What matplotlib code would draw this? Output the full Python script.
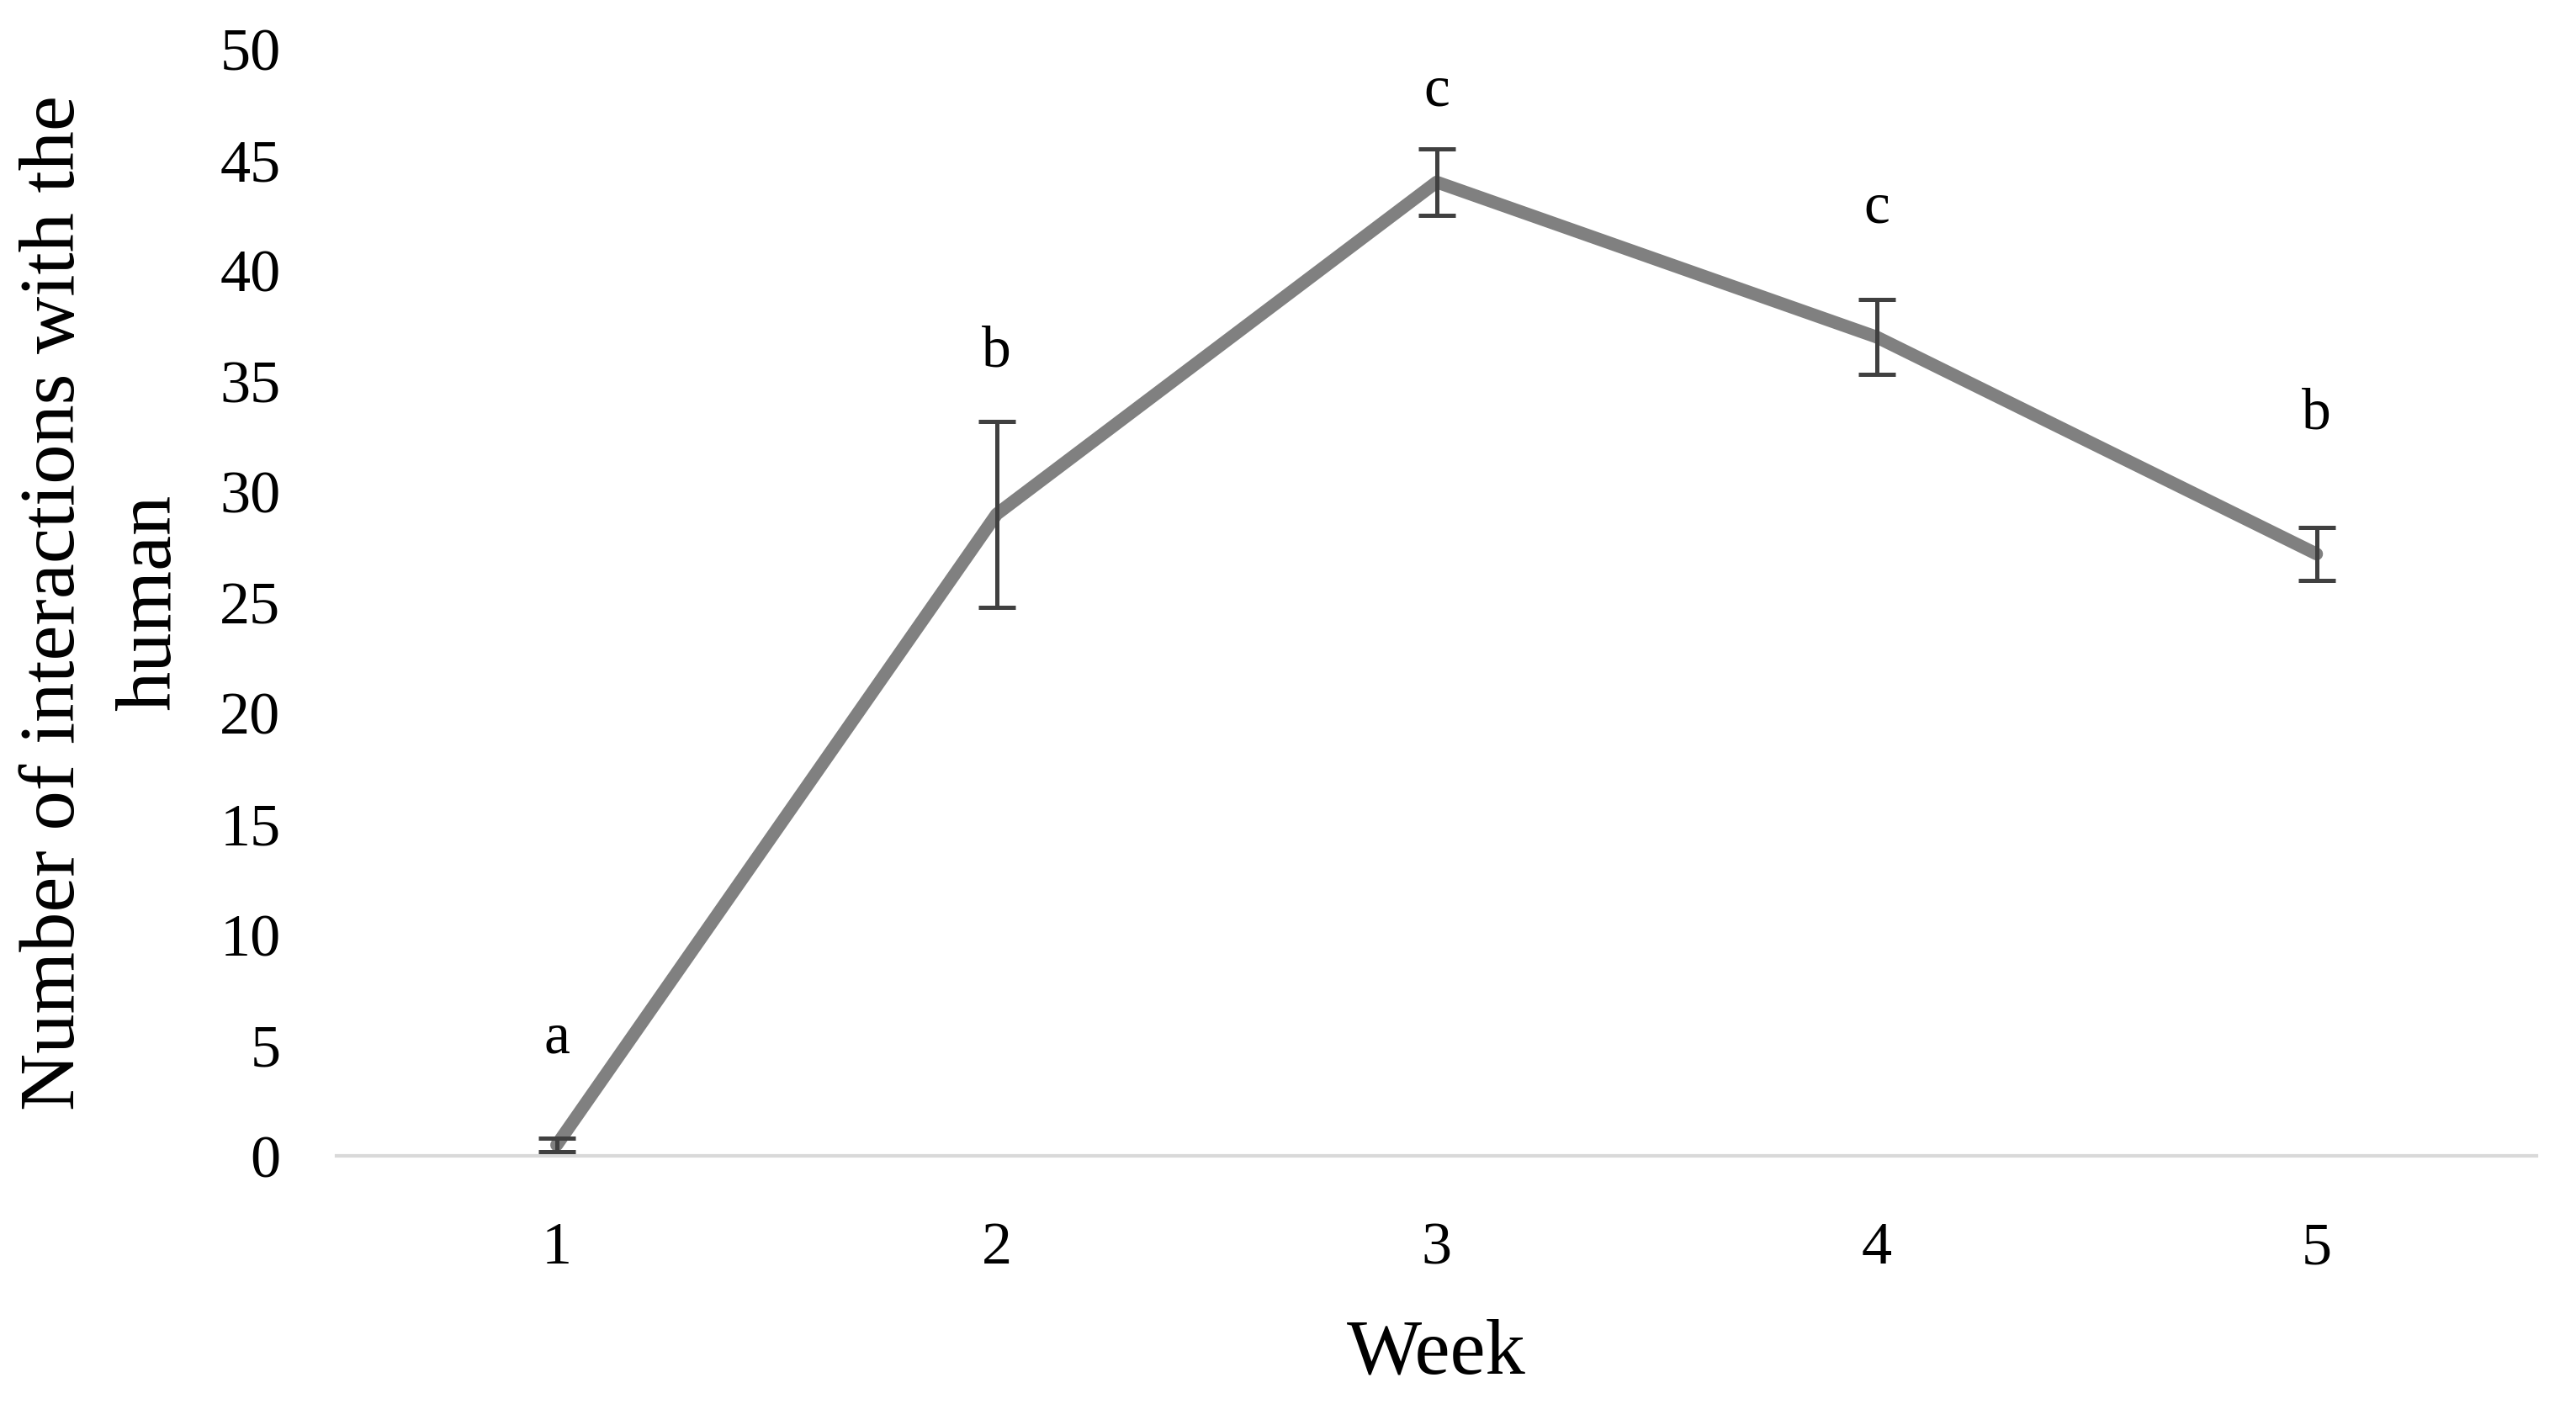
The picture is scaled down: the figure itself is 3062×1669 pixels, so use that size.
import matplotlib.pyplot as plt
import numpy as np

plt.rcParams['font.family'] = ['Liberation Serif', 'DejaVu Serif']

weeks = [1, 2, 3, 4, 5]
interactions = [0.5, 29.0, 44.0, 37.0, 27.2]
errors = [0.3, 4.2, 1.5, 1.7, 1.2]
letters = ['a', 'b', 'c', 'c', 'b']
letter_y = [5.3, 36.3, 48.1, 42.8, 33.5]

fig = plt.figure(figsize=(15.31, 8.345), dpi=200)
ax = fig.add_axes([0.1307, 0.1766, 0.854, 0.7883])

ax.plot(weeks, interactions, color='#808080', linewidth=5.5, solid_capstyle='round', zorder=2)
ax.errorbar(weeks, interactions, yerr=errors, fmt='none', ecolor='#404040',
            elinewidth=1.8, capsize=8, capthick=1.8, zorder=3)

for x, y, t in zip(weeks, letter_y, letters):
    ax.text(x, y, t, ha='center', va='center', fontsize=25, color='black')

ax.set_xlim(0.5, 5.5)
ax.set_ylim(0, 50)
ax.set_yticks(np.arange(0, 51, 5))
ax.set_xticks(weeks)

for s in ['top', 'right', 'left']:
    ax.spines[s].set_visible(False)
ax.spines['bottom'].set_color('#d9d9d9')
ax.spines['bottom'].set_linewidth(1.5)

ax.tick_params(axis='both', length=0, labelsize=26, colors='black')
ax.tick_params(axis='y', pad=24)
ax.tick_params(axis='x', pad=28)

ax.set_xlabel('Week', fontsize=34, labelpad=18)
ax.set_ylabel('Number of interactions with the\nhuman', fontsize=34, labelpad=14, linespacing=1.45)

fig.savefig('out.png', dpi=200, facecolor='white')
